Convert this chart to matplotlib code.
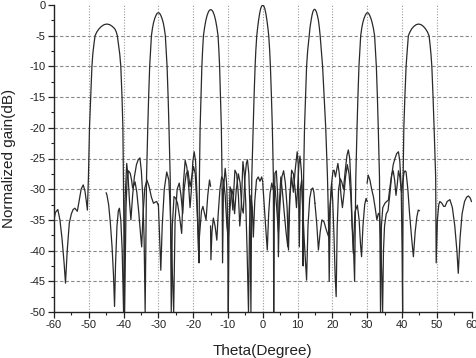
import matplotlib
matplotlib.use("Agg")
import matplotlib.pyplot as plt
from matplotlib.ticker import MultipleLocator

plt.rcParams["font.family"] = ["Liberation Sans", "DejaVu Sans"]
plt.rcParams["axes.unicode_minus"] = False

# (theta in degrees, normalized gain in dB), one list per beam
beam_m45 = [(-60.0, -35.0), (-59.6, -33.8), (-58.9, -33.3), (-58.3, -35.0), (-57.7, -38.0), (-57.1, -42.0),
            (-56.7, -45.3), (-56.2, -40.0), (-55.6, -35.5), (-55.0, -34.0), (-54.5, -33.3), (-54.0, -33.1),
            (-53.3, -33.6), (-52.8, -32.0), (-52.2, -30.0), (-51.6, -29.3), (-51.1, -30.3), (-50.7, -32.0),
            (-50.4, -33.4), (-50.1, -28.0), (-49.8, -20.0), (-49.45, -15.0), (-49.1, -10.0), (-48.85, -8.0),
            (-48.55, -6.5), (-48.2, -5.0), (-47.7, -4.4), (-47.1, -3.9), (-46.4, -3.5), (-45.6, -3.2),
            (-44.8, -3.1), (-44.0, -3.2), (-43.2, -3.5), (-42.5, -3.9), (-42.1, -4.4), (-41.8, -5.0),
            (-41.45, -6.5), (-41.1, -8.0), (-40.8, -10.0), (-40.45, -15.0), (-40.2, -20.0), (-40.05, -28.0),
            (-39.7, -50.0), (-39.3, -33.0), (-39.0, -28.5), (-38.6, -27.0), (-38.1, -27.4), (-37.7, -28.5),
            (-37.4, -29.8), (-37.0, -29.3), (-36.7, -28.8), (-36.2, -30.5), (-35.6, -34.0), (-35.1, -37.5),
            (-34.8, -39.4), (-34.4, -34.0), (-33.9, -29.8), (-33.3, -28.5), (-32.7, -29.5), (-32.0, -31.3),
            (-31.4, -32.3), (-30.9, -32.1), (-30.5, -32.0), (-30.0, -32.6)]

beam_m30 = [(-45.0, -30.6), (-44.8, -30.9), (-44.3, -32.5), (-43.8, -35.5), (-43.3, -39.5), (-42.9, -44.0),
            (-42.6, -49.1), (-42.3, -42.0), (-41.9, -36.0), (-41.5, -33.5), (-41.2, -33.1), (-40.8, -35.0),
            (-40.4, -40.0), (-40.0, -50.0), (-39.6, -32.0), (-39.1, -25.8), (-38.7, -28.0), (-38.3, -32.0),
            (-37.9, -35.0), (-37.4, -31.0), (-36.9, -28.0), (-36.3, -26.0), (-35.8, -25.2), (-35.3, -24.9),
            (-34.9, -27.0), (-34.5, -31.0), (-34.1, -38.0), (-33.8, -50.0), (-33.4, -28.0), (-33.05, -20.0),
            (-32.8, -15.0), (-32.5, -10.0), (-32.25, -7.5), (-32.0, -5.0), (-31.7, -3.8), (-31.4, -2.9),
            (-31.05, -2.2), (-30.7, -1.7), (-30.35, -1.35), (-30.0, -1.25), (-29.65, -1.35), (-29.3, -1.7),
            (-28.95, -2.2), (-28.6, -2.9), (-28.3, -3.8), (-28.0, -5.0), (-27.75, -7.5), (-27.5, -10.0),
            (-27.2, -15.0), (-26.95, -20.0), (-26.6, -28.0), (-26.3, -50.0), (-26.0, -36.0), (-25.5, -31.2),
            (-25.0, -31.5), (-24.5, -32.3), (-23.9, -34.5), (-23.3, -37.2), (-22.8, -29.0), (-22.3, -25.3),
            (-21.8, -26.5), (-21.3, -29.5), (-20.9, -33.0), (-20.5, -30.0), (-20.1, -25.5), (-19.7, -23.9),
            (-19.3, -25.5), (-18.9, -31.0), (-18.5, -40.0), (-18.1, -37.0), (-17.6, -33.5), (-17.2, -32.8),
            (-16.8, -33.8), (-16.3, -35.0), (-15.8, -31.0), (-15.3, -28.5), (-15.0, -29.5)]

beam_m15 = [(-30.0, -32.5), (-29.7, -37.0), (-29.3, -43.2), (-28.9, -36.0), (-28.3, -30.0), (-27.6, -27.2),
            (-27.0, -28.5), (-26.6, -33.0), (-26.2, -40.0), (-25.6, -50.0), (-25.2, -35.0), (-24.6, -30.0),
            (-24.0, -29.0), (-23.5, -31.0), (-23.0, -34.0), (-22.6, -30.0), (-22.0, -27.5), (-21.5, -27.0),
            (-20.9, -29.6), (-20.4, -28.0), (-19.9, -26.3), (-19.4, -27.5), (-18.9, -33.0), (-18.5, -38.0),
            (-18.3, -42.0), (-18.2, -28.0), (-18.0, -20.0), (-17.75, -15.0), (-17.5, -10.0), (-17.3, -7.5),
            (-17.05, -5.0), (-16.7, -3.6), (-16.35, -2.5), (-16.0, -1.7), (-15.6, -1.1), (-15.3, -0.85),
            (-14.95, -0.75), (-14.6, -0.85), (-14.3, -1.1), (-13.9, -1.7), (-13.55, -2.5), (-13.2, -3.6),
            (-12.85, -5.0), (-12.6, -7.5), (-12.4, -10.0), (-12.15, -15.0), (-11.9, -20.0), (-11.7, -28.0),
            (-11.55, -42.0), (-11.3, -30.0), (-10.8, -26.6), (-10.4, -29.0), (-10.2, -32.3), (-10.05, -40.0),
            (-9.9, -50.0), (-9.7, -36.0), (-9.4, -29.6), (-9.0, -30.5), (-8.6, -33.4), (-8.3, -30.0),
            (-8.0, -26.9), (-7.5, -27.5), (-7.0, -31.0), (-6.6, -36.0), (-6.2, -33.0), (-5.7, -25.5),
            (-5.3, -27.5), (-4.9, -32.0), (-4.5, -40.0), (-4.1, -50.0), (-3.8, -36.0), (-3.4, -31.0),
            (-3.0, -33.0), (-2.7, -37.8), (-2.3, -32.0), (-1.8, -28.5), (-1.3, -28.0), (-0.8, -28.7),
            (-0.3, -28.0), (0.0, -28.8)]

beam_0 = [(-15.0, -36.0), (-14.9, -41.5), (-14.6, -37.0), (-14.2, -34.7), (-13.7, -36.0), (-13.2, -38.3),
          (-12.8, -34.0), (-12.3, -30.0), (-11.8, -28.0), (-11.3, -28.5), (-10.8, -31.0), (-10.3, -36.0),
          (-9.9, -38.0), (-9.4, -33.0), (-8.9, -30.0), (-8.5, -31.0), (-8.1, -34.0), (-7.6, -30.0),
          (-7.0, -27.5), (-6.5, -29.0), (-6.0, -33.0), (-5.6, -33.9), (-5.1, -28.0), (-4.7, -25.8),
          (-4.4, -25.2), (-4.0, -27.5), (-3.7, -33.0), (-3.4, -50.0), (-3.15, -28.0), (-2.75, -20.0),
          (-2.5, -15.0), (-2.2, -10.0), (-2.0, -7.5), (-1.72, -5.0), (-1.45, -3.6), (-1.2, -2.5),
          (-0.9, -1.4), (-0.6, -0.6), (-0.3, -0.15), (0.0, -0.05), (0.3, -0.15), (0.6, -0.6), (0.9, -1.4),
          (1.2, -2.5), (1.45, -3.6), (1.72, -5.0), (2.0, -7.5), (2.2, -10.0), (2.5, -15.0),
          (2.76, -20.0), (3.05, -28.0), (3.15, -50.0), (3.3, -33.0), (3.5, -27.4), (3.9, -27.0),
          (4.3, -31.0), (4.5, -41.0), (4.8, -32.0), (5.2, -28.0), (5.7, -30.7), (6.2, -34.0), (6.7, -37.0),
          (7.2, -39.4), (7.7, -32.0), (8.3, -26.9), (8.8, -27.5), (9.3, -30.0), (9.7, -33.0), (10.0, -30.0),
          (10.4, -26.0), (10.7, -24.6), (11.1, -27.0), (11.5, -33.0), (11.9, -38.0), (12.3, -42.0),
          (12.6, -44.8), (13.0, -36.0), (13.5, -31.5), (14.0, -30.0), (14.4, -29.8), (14.7, -30.5),
          (15.0, -32.3)]

beam_15 = [(0.0, -29.0), (0.2, -30.7), (0.7, -35.0), (1.3, -39.9), (1.7, -34.0), (2.1, -30.7), (2.6, -29.0),
           (3.0, -30.0), (3.5, -29.5), (4.0, -33.0), (4.5, -37.0), (5.0, -32.0), (5.5, -28.0), (6.0, -27.0),
           (6.5, -29.0), (7.0, -33.0), (7.4, -39.9), (7.8, -31.0), (8.3, -28.0), (8.8, -30.5), (9.3, -27.0),
           (9.9, -23.9), (10.2, -26.0), (10.5, -39.4), (10.8, -30.0), (11.2, -28.5), (11.45, -33.0),
           (11.6, -42.5), (11.75, -28.0), (12.0, -20.0), (12.3, -15.0), (12.6, -10.0), (12.9, -7.5),
           (13.35, -5.0), (13.6, -3.6), (13.9, -2.5), (14.15, -1.7), (14.4, -1.1), (14.65, -0.8),
           (14.9, -0.7), (15.15, -0.8), (15.4, -1.1), (15.7, -1.7), (16.0, -2.5), (16.25, -3.6),
           (16.5, -5.0), (16.85, -7.5), (17.2, -10.0), (17.65, -15.0), (18.1, -20.0), (18.6, -28.0),
           (18.9, -35.0), (19.1, -45.0), (19.4, -33.0), (19.8, -29.0), (20.1, -31.8), (20.5, -38.0),
           (20.8, -44.0), (21.1, -47.5), (21.4, -36.0), (21.8, -30.0), (22.3, -28.3), (22.7, -28.8),
           (23.2, -30.0), (23.7, -27.0), (24.2, -24.5), (24.6, -23.6), (25.0, -25.0), (25.4, -30.0),
           (25.7, -36.0), (26.0, -40.4), (26.5, -33.7), (27.2, -32.6), (27.7, -35.0), (28.1, -39.0),
           (28.4, -41.0), (28.8, -36.0), (29.3, -32.5), (29.7, -31.5), (30.0, -32.0)]

beam_30 = [(15.0, -32.3), (15.5, -35.5), (16.0, -39.9), (16.5, -37.0), (17.0, -35.0), (17.6, -35.3),
           (18.2, -36.5), (18.9, -37.7), (19.3, -33.0), (19.8, -29.0), (20.2, -27.0), (20.5, -26.9),
           (20.9, -28.0), (21.2, -27.0), (21.6, -25.8), (22.0, -27.5), (22.5, -31.0), (22.9, -33.0),
           (23.3, -31.0), (23.8, -28.0), (24.3, -26.0), (24.8, -27.5), (25.3, -31.0), (25.7, -36.0),
           (26.0, -38.0), (26.4, -45.0), (26.75, -28.0), (27.1, -20.0), (27.35, -15.0), (27.65, -10.0),
           (27.9, -7.5), (28.15, -5.0), (28.45, -3.8), (28.75, -2.9), (29.1, -2.2), (29.45, -1.7),
           (29.8, -1.35), (30.1, -1.25), (30.4, -1.35), (30.75, -1.7), (31.1, -2.2), (31.45, -2.9),
           (31.8, -3.8), (32.15, -5.0), (32.4, -7.5), (32.65, -10.0), (32.95, -15.0), (33.2, -20.0),
           (33.55, -28.0), (33.85, -50.0), (34.1, -36.0), (34.5, -33.0), (35.1, -32.3), (35.6, -32.0),
           (36.1, -31.8), (36.6, -29.5), (37.1, -27.5), (37.5, -27.0), (37.9, -28.5), (38.3, -31.0),
           (38.7, -29.0), (39.0, -27.0), (39.4, -28.0), (39.9, -30.5), (40.2, -29.0), (40.6, -27.3),
           (40.9, -27.0), (41.2, -27.2), (41.7, -30.0), (42.2, -34.0), (42.8, -38.0), (43.3, -41.0),
           (43.8, -37.0), (44.3, -34.5), (44.7, -33.4), (45.0, -33.5)]

beam_45 = [(30.0, -29.0), (30.3, -27.7), (30.8, -28.5), (31.3, -30.0), (31.8, -31.2), (32.3, -33.0),
           (32.8, -35.0), (33.2, -34.0), (33.5, -33.9), (33.9, -38.0), (34.2, -44.0), (34.45, -50.0),
           (34.7, -40.0), (35.0, -36.0), (35.5, -34.0), (36.0, -33.5), (36.5, -31.0), (37.0, -28.0),
           (37.5, -26.0), (38.0, -25.0), (38.5, -24.2), (39.0, -23.9), (39.4, -25.5), (39.8, -30.0),
           (40.05, -40.0), (40.2, -50.0), (40.35, -28.0), (40.55, -20.0), (40.85, -15.0), (41.2, -10.0),
           (41.45, -8.0), (41.65, -6.5), (41.85, -5.0), (42.3, -4.4), (42.8, -3.9), (43.4, -3.5),
           (44.1, -3.2), (44.8, -3.1), (45.5, -3.2), (46.2, -3.5), (46.8, -3.9), (47.35, -4.4),
           (47.8, -5.0), (48.1, -6.5), (48.35, -8.0), (48.6, -10.0), (48.95, -15.0), (49.25, -20.0),
           (49.7, -28.0), (49.85, -42.0), (50.2, -35.0), (50.6, -32.5), (50.9, -32.0), (51.5, -32.3),
           (52.0, -32.8), (52.4, -32.8), (53.0, -32.0), (53.8, -31.7), (54.5, -33.0), (55.2, -36.0),
           (55.8, -40.0), (56.2, -43.7), (56.7, -38.0), (57.3, -34.0), (58.0, -32.0), (58.6, -31.3),
           (59.1, -31.1), (59.6, -31.4), (60.0, -32.0)]

beams = [beam_m45, beam_m30, beam_m15, beam_0, beam_15, beam_30, beam_45]

x_ticks = list(range(-60, 61, 10))
y_ticks = list(range(-50, 1, 5))

fig = plt.figure(figsize=(4.76, 3.58), dpi=100)
ax = fig.add_axes([54 / 476, 1 - 312 / 358, (471.5 - 54) / 476, 307 / 358])

# inner grid only: dotted verticals, dashed horizontals
for x in x_ticks[1:-1]:
    ax.axvline(x, color="#9a9a9a", linestyle=(0, (1, 1.5)), linewidth=0.8, zorder=1)
for y in y_ticks[1:-1]:
    ax.axhline(y, color="#8a8a8a", linestyle=(0, (3, 2)), linewidth=0.8, zorder=1)

for beam in beams:
    th = [p[0] for p in beam]
    g = [p[1] for p in beam]
    ax.plot(th, g, color="#2a2a2a", linewidth=0.9, zorder=3)

ax.set_xlim(-60, 60)
ax.set_ylim(-50, 0)
ax.set_xticks(x_ticks)
ax.set_yticks(y_ticks)
ax.xaxis.set_minor_locator(MultipleLocator(5))
ax.yaxis.set_minor_locator(MultipleLocator(2.5))
ax.tick_params(which="major", direction="out", length=4, width=0.9, labelsize=8, colors="#222222")
ax.tick_params(which="minor", direction="out", length=2.5, width=0.8, colors="#222222")
ax.tick_params(axis="x", pad=2)
ax.tick_params(axis="y", pad=2)

for side in ("top", "right"):
    ax.spines[side].set_visible(False)
for side in ("left", "bottom"):
    ax.spines[side].set_linewidth(1.0)
    ax.spines[side].set_color("#222222")

ax.set_xlabel("Theta(Degree)", fontsize=11, color="#222222")
ax.set_ylabel("Normalized gain(dB)", fontsize=11, color="#222222")
ax.xaxis.set_label_coords(0.5, -0.105)
ax.yaxis.set_label_coords(-0.09, 0.5)

fig.savefig("out.png", dpi=100)
